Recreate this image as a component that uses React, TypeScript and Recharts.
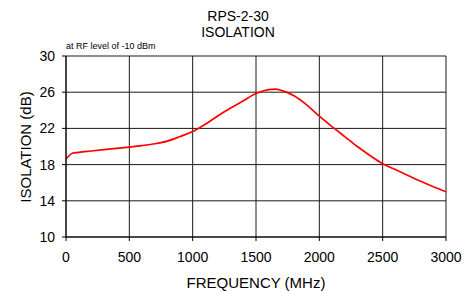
import React from "react";
import {
  CartesianGrid,
  Line,
  LineChart,
  XAxis,
  YAxis,
} from "recharts";

const frequencies = [
  0, 50, 100, 200, 300, 400, 500, 600, 700, 800, 900, 1000, 1100, 1200, 1300,
  1400, 1500, 1600, 1650, 1700, 1800, 1900, 2000, 2100, 2200, 2300, 2400, 2500,
  2600, 2700, 2800, 2900, 3000,
];
const isolation = [
  18.6, 19.25, 19.35, 19.5, 19.65, 19.8, 19.93, 20.1, 20.3, 20.6, 21.1, 21.65,
  22.45, 23.4, 24.25, 25.05, 25.85, 26.28, 26.33, 26.2, 25.6, 24.6, 23.35, 22.2,
  21.1, 20.0, 19.0, 18.1, 17.45, 16.8, 16.15, 15.55, 15.0,
];
const xTicks = [0, 500, 1000, 1500, 2000, 2500, 3000];
const yTicks = [10, 14, 18, 22, 26, 30];

const title = "RPS-2-30";
const subtitle = "ISOLATION";
const note = "at RF level of -10 dBm";

const font = "'Liberation Sans', Arial, sans-serif";

const chartData = frequencies.map((f, i) => ({ freq: f, value: isolation[i] }));

export default function App() {
  return (
    <div
      style={{
        position: "absolute",
        left: 0,
        top: 0,
        width: 476,
        height: 291,
        background: "#fff",
        fontFamily: font,
      }}
    >
      <div
        style={{
          position: "absolute",
          left: 0,
          width: 476,
          top: 8,
          textAlign: "center",
          fontSize: 14,
          lineHeight: "16px",
          color: "#000",
        }}
      >
        {title}
        <br />
        {subtitle}
      </div>
      <div
        style={{
          position: "absolute",
          left: 66,
          top: 41,
          fontSize: 9,
          lineHeight: "11px",
          color: "#000",
        }}
      >
        {note}
      </div>
      <LineChart
        width={476}
        height={291}
        data={chartData}
        margin={{ top: 56, right: 30, bottom: 0, left: 0 }}
        style={{ position: "absolute", left: 0, top: 0 }}
      >
        <CartesianGrid stroke="#1a1a1a" strokeWidth={1} />
        <XAxis
          dataKey="freq"
          type="number"
          domain={[0, 3000]}
          ticks={xTicks}
          height={54}
          tickSize={4}
          tickMargin={11}
          stroke="#000"
          tick={{ fill: "#000", fontSize: 14, fontFamily: font }}
          label={{
            content: () => (
              <text
                x={256}
                y={282}
                textAnchor="middle"
                dominantBaseline="central"
                fontSize={15}
                fontFamily={font}
                fill="#000"
              >
                FREQUENCY (MHz)
              </text>
            ),
          }}
        />
        <YAxis
          type="number"
          domain={[10, 30]}
          ticks={yTicks}
          width={66}
          tickSize={4}
          tickMargin={7}
          stroke="#000"
          tick={{ fill: "#000", fontSize: 14, fontFamily: font }}
          label={{
            content: () => (
              <text
                x={25}
                y={147}
                transform="rotate(-90 25 147)"
                textAnchor="middle"
                dominantBaseline="central"
                fontSize={15}
                fontFamily={font}
                fill="#000"
              >
                ISOLATION (dB)
              </text>
            ),
          }}
        />
        <Line
          type="monotone"
          dataKey="value"
          stroke="#ff0000"
          strokeWidth={1.7}
          dot={false}
          isAnimationActive={false}
        />
      </LineChart>
    </div>
  );
}
